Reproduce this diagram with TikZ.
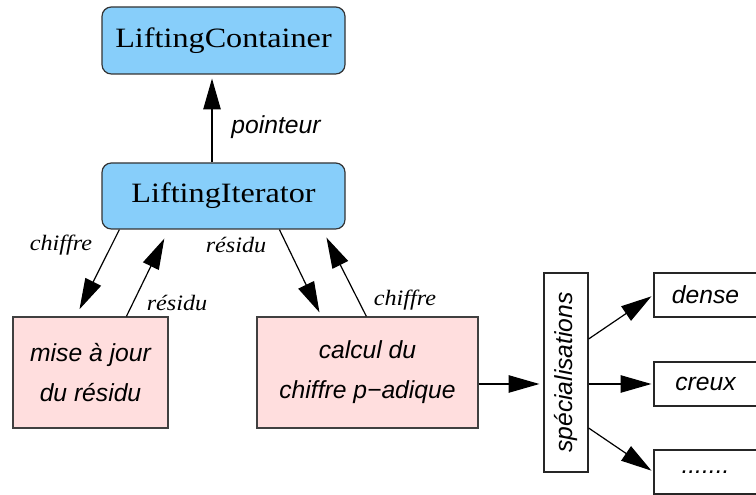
\documentclass[tikz,border=0pt]{standalone}
\usepackage{fontspec}
\setsansfont{Liberation Sans}
\newfontfamily\namefont[FakeStretch=1.15]{Liberation Serif}
\newfontfamily\labelfont[FakeStretch=1.1]{Liberation Serif}
\usetikzlibrary{arrows.meta,calc}
\definecolor{classblue}{HTML}{87CEFA}
\definecolor{taskpink}{HTML}{FFDEDE}

\begin{document}
\begin{tikzpicture}[x=0.75pt,y=0.75pt,
		classbox/.style={draw=black!80,line width=0.9pt,fill=classblue,rounded corners=7pt,
			minimum width=182.25pt,font=\namefont\fontsize{21}{24}\selectfont},
		taskbox/.style={draw=black!75,line width=0.9pt,fill=taskpink,minimum height=83.25pt,
			align=center,font=\sffamily\itshape\fontsize{18.5}{30}\selectfont},
		specbox/.style={draw=black!85,line width=0.9pt,fill=white,
			font=\sffamily\itshape\fontsize{18.5}{22}\selectfont},
		lbl/.style={font=\labelfont\itshape\fontsize{16.5}{18}\selectfont},
		fleche/.style={-{Triangle[length=23pt,width=13pt]},line width=0.9pt}]
		% 画布
		\useasboundingbox (0,0) rectangle (756,495);
		\clip (0,0) rectangle (756,495);
		% 类
		\node[classbox,minimum height=50.25pt] (cont) at (223.5,454.5) {LiftingContainer};
		\node[classbox,minimum height=49.5pt] (iter) at (223.5,299) {LiftingIterator};
		% 任务
		\node[taskbox,minimum width=116.25pt] (mise) at (90.5,122.5) {mise à jour\\du résidu};
		\node[taskbox,minimum width=165.75pt] (calc) at (367.5,122.5) {calcul du\\chiffre p−adique};
		% 特化
		\node[specbox,minimum width=33pt,minimum height=149.25pt] (spec) at (566,122.5)
			{\rotatebox{90}{spécialisations}};
		\node[specbox,minimum width=77.25pt,minimum height=33pt] (dense) at (705.5,200) {dense};
		\node[specbox,minimum width=77.25pt,minimum height=33pt] (creux) at (705.5,111) {creux};
		\node[specbox,minimum width=77.25pt,minimum height=33pt] (autre) at (705.5,23) {.......};
		% 箭头
		\draw[fleche,shorten >=3pt] ($(iter.north)+(-11.5,0)$) -- ($(cont.south)+(-11.5,0)$);
		\draw[fleche,shorten >=6pt] ($(iter.south west)+(18,0)$) -- ($(mise.north west)+(63.5,0)$);
		\draw[fleche,shorten >=7.5pt] ($(mise.north west)+(114,0)$) -- ($(iter.south west)+(67.3,0)$);
		\draw[fleche,shorten >=3.3pt] ($(iter.south west)+(178,0)$) -- ($(calc.north west)+(65,0)$);
		\draw[fleche,shorten >=6.7pt] ($(calc.north west)+(110,0)$) -- ($(iter.south west)+(221,0)$);
		\draw[fleche,shorten >=3pt] (calc.east |- creux.west) -- (spec.west |- creux.west);
		\draw[fleche,shorten >=1.8pt] ($(spec.east)+(0,33.5)$) -- (dense.west);
		\draw[fleche,shorten >=1.5pt] (spec.east |- creux.west) -- (creux.west);
		\draw[fleche,shorten >=1.8pt] ($(spec.east)+(0,-55.5)$) -- (autre.west);
		% 标签
		\node[font=\sffamily\itshape\fontsize{18.5}{22}\selectfont] (ptr) at (276,368) {pointeur};
		\node[lbl] (chg) at (61,250) {chiffre};
		\node[lbl] (rsg) at (177,192) {résidu};
		\node[lbl] (rsc) at (236,250) {résidu};
		\node[lbl] (chd) at (405,195) {chiffre};
	\end{tikzpicture}
\end{document}
